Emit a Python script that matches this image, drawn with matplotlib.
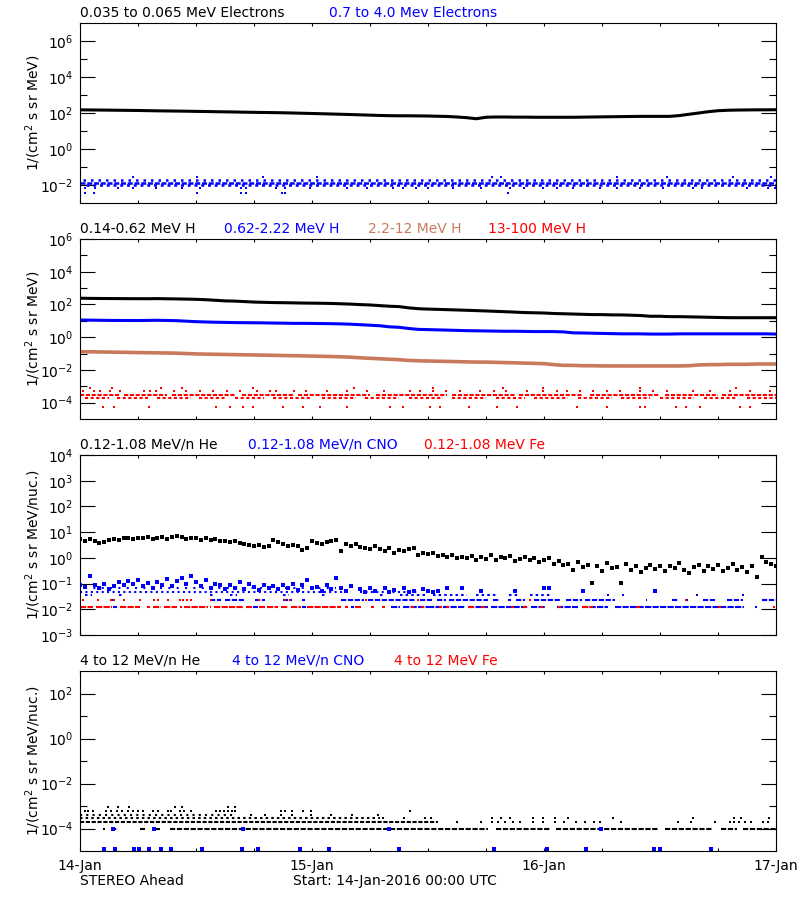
import numpy as np
import matplotlib
matplotlib.use('Agg')
import matplotlib.pyplot as plt
from matplotlib.ticker import FixedLocator, FixedFormatter, NullFormatter, NullLocator

nan = np.nan

# time axis in hours after 14-Jan-2016 00:00 UTC
hours = np.arange(0, 73)            # hourly samples
half_hours = np.arange(0, 145) / 2.0  # 30 min samples

# ---- panel 1 : electrons ----
e_low_flux = [150, 148, 146, 144, 142, 140, 138, 135, 132, 130, 128, 126, 123,
              121, 118, 116, 114, 111, 109, 107, 105,
              103, 100, 97, 94, 91, 88, 85, 82, 79, 76, 73, 71, 70,
              70, 69, 68, 66, 64, 60, 55,
              48,
              58, 60, 60, 59, 59, 58, 58, 58, 58, 58, 59, 60, 61, 62, 63, 64, 65, 65, 65, 65,
              72, 85, 100, 118, 134, 142, 146, 148, 150, 150, 152]
e_high_row_levels = [0.019, 0.0135, 0.010]
e_high_row_spans = [[(0.3, 72)], [(0, 72)], [(0.6, 72)]]
e_high_pt_levels = [0.029, 0.0066, 0.0035]
e_high_pt_hours = [
    [5.5, 12.1, 18.9, 24.5, 42.6, 43.6, 55.5, 60.7, 67.6, 71.5],
    [0.52, 1.55, 3.97, 5.5, 7.9, 10.5, 12.4, 16.7, 17.2, 20.3, 21.2, 23.8, 27.6, 29.7,
     32.4, 33.4, 34.8, 36.0, 38.6, 41.5, 44.5, 45.9, 47.9, 49.3, 51.0, 53.8, 55.5,
     57.9, 60.3, 63.4, 64.3, 69.0, 71.2, 71.9],
    [0.52, 1.4, 12.1, 16.7, 17.2, 20.9, 21.2, 44.3],
]

# ---- panel 2 : protons ----
h1_flux = [240, 235, 232, 230, 228, 226, 225, 224, 228, 222, 218,
           212, 206, 195, 180, 165, 160, 150, 140, 135, 130,
           128, 125, 122, 120, 118, 115, 110, 105, 98, 93, 85, 78, 74,
           62, 55, 52, 50, 48, 46, 44,
           42, 40, 38, 36, 34, 32, 31, 30, 28, 27,
           26, 25, 24, 24, 23, 23, 22, 21, 19, 19,
           18, 18, 17.5, 17, 16.5, 16, 15.6, 15.5, 15.5, 15.5, 15.5, 15.5]
h2_flux = [11.2, 11, 10.8, 10.6, 10.5, 10.5, 10.4, 10.6, 10.8, 10.5, 10.2,
           9.5, 8.9, 8.5, 8.2, 8.0, 7.8, 7.7, 7.6, 7.5, 7.3,
           7.2, 7.0, 7.0, 6.9, 6.8, 6.7, 6.5, 6.2, 5.8, 5.4, 5.0, 4.3, 4.0,
           3.4, 3.0, 2.9, 2.8, 2.7, 2.6, 2.5,
           2.45, 2.4, 2.35, 2.3, 2.3, 2.25, 2.2, 2.2, 2.2, 2.1,
           1.85, 1.8, 1.75, 1.7, 1.65, 1.6, 1.6, 1.6, 1.55, 1.55,
           1.55, 1.6, 1.6, 1.6, 1.6, 1.6, 1.6, 1.6, 1.6, 1.6, 1.6, 1.55]
h3_flux = [0.13, 0.128, 0.125, 0.123, 0.12, 0.118, 0.115, 0.112, 0.11, 0.108, 0.105,
           0.1, 0.095, 0.092, 0.09, 0.088, 0.086, 0.084, 0.082, 0.08, 0.078,
           0.076, 0.074, 0.072, 0.07, 0.068, 0.066, 0.063, 0.06, 0.055, 0.051, 0.048, 0.045, 0.042,
           0.038, 0.036, 0.035, 0.034, 0.033, 0.032, 0.031,
           0.030, 0.030, 0.029, 0.028, 0.027, 0.026, 0.025, 0.024, 0.021, 0.019,
           0.019, 0.018, 0.018, 0.0175, 0.0175, 0.0174, 0.0174, 0.0174, 0.0175, 0.0175,
           0.0175, 0.0175, 0.018, 0.02, 0.021, 0.021, 0.022, 0.022, 0.022, 0.023, 0.023, 0.023]
h4_row_levels = [3.0e-4, 1.8e-4]
h4_row_spans = [
    [(0, 4), (4.5, 9), (9.5, 16), (16.8, 22), (22.5, 30), (30.6, 38), (38.5, 45),
     (45.4, 52), (52.8, 60), (60.5, 66), (66.4, 72)],
    [(0.5, 3), (3.8, 7), (8, 11.5), (12.3, 15), (16, 19), (20, 24), (25, 28.5),
     (29.5, 33), (34, 37.5), (38.5, 42), (43, 46), (47, 50.5), (51.5, 55), (56, 59),
     (60, 63.5), (64.5, 68), (69, 72)],
]
h4_pt_levels = [7.4e-4, 5.1e-4, 5.6e-5]
h4_pt_hours = [
    [1.0, 3.3, 8.4, 10.5, 17.9, 28.3, 36.5, 43.8, 47.9, 57.9, 67.9],
    [0.35, 1.4, 2.1, 3.1, 4.1, 6.6, 7.2, 7.9, 9.7, 11.0, 12.4, 13.8, 15.2, 16.6, 18.3,
     19.7, 20.3, 22.1, 23.4, 25.5, 27.6, 29.7, 31.4, 34.1, 35.2, 36.5, 37.9, 39.3,
     41.4, 42.8, 44.1, 46.2, 47.9, 49.3, 50.4, 51.7, 53.1, 54.5, 55.9, 57.9, 59.3,
     60.7, 63.4, 65.2, 67.2, 69.3, 71.4],
    [2.4, 3.5, 7.1, 14.1, 15.5, 16.9, 17.9, 21.0, 23.1, 24.8, 27.6, 32.1, 33.4, 36.2,
     37.2, 40.2, 43.1, 45.2, 51.4, 54.5, 57.9, 58.4, 61.7, 62.7, 64.1, 68.3, 69.3],
]

# ---- panel 3 : low energy heavy ions ----
he_flux = [5.2, 4.6, 5.6, 4.4, 3.8, 4.1, 4.8, 5.5, 4.9, 5.9, 6.1,
           5.4, 6.0, 5.7, 6.3, 5.2, 5.8, 6.4, 5.5, 6.6, 6.9,
           6.2, 5.4, 6.0, 5.7, 5.0, 5.8, 4.9, 5.3, 4.4, 4.7,
           4.2, 4.5, 3.9, 3.6, 3.3, 2.8, 3.1, 2.6, 2.9, 5.0,
           4.3, 3.6, 3.0, 3.3, 2.8, 2.0, 2.5, 4.4, 3.8, 3.4,
           4.0, 4.6, 5.1, 1.8, 3.6, 3.0, 3.4, 2.6, 2.4, 2.2,
           2.8, 2.3, 1.9, 2.4, 1.6, 2.1, 1.8, 2.2, 2.4, 1.3,
           1.5, 1.4, 1.6, 1.2, 1.3, 1.1, 1.25, 0.95, 1.1, 1.0,
           1.2, 0.85, 1.1, 0.9, 1.3, 0.8, 1.05, 0.95, 1.15, 0.75,
           0.9, 1.1, 0.8, 0.95, 0.7, 0.85, 1.0, 0.6, 0.75, 0.55,
           0.6, 0.35, 0.7, 0.45, 0.55, 0.11, 0.5, 0.3, 0.65, 0.4,
           0.45, 0.11, 0.6, 0.35, 0.5, 0.28, 0.42, 0.55, 0.38, 0.48,
           0.3, 0.5, 0.4, 0.62, 0.35, 0.25, 0.45, 0.55, 0.32, 0.48,
           0.38, 0.52, 0.3, 0.42, 0.6, 0.33, 0.45, 0.28, 0.5, 0.18,
           1.05, 0.7, 0.6, 0.5]
cno_flux = [0.09, 0.075, 0.2, 0.085, 0.07, 0.1, 0.06, 0.08, 0.12, 0.09, 0.13,
            0.1, 0.14, 0.08, 0.11, 0.07, 0.12, 0.09, 0.15, 0.08, 0.13,
            0.17, 0.1, 0.19, 0.12, 0.08, 0.14, 0.07, 0.1, 0.085, 0.06,
            0.09, 0.07, 0.12, 0.06, 0.1, 0.075, 0.055, 0.09, 0.065, 0.08,
            0.06, 0.09, 0.07, 0.1, 0.055, 0.085, 0.14, 0.065, 0.075, 0.05,
            0.09, 0.06, 0.17, 0.07, 0.05, 0.08, nan, 0.06, 0.045, 0.07,
            0.05, nan, 0.065, 0.045, 0.055, nan, 0.07, 0.045, 0.05, nan,
            0.06, 0.05, 0.045, 0.05, nan, 0.07, nan, nan, 0.07, nan,
            nan, nan, 0.05, nan, nan, nan, nan, nan, nan, 0.05,
            nan, nan, nan, nan, nan, 0.07, 0.07, nan, nan, nan,
            nan, nan, nan, 0.05, nan, nan, nan, nan, nan, nan,
            nan, nan, nan, nan, nan, nan, nan, nan, 0.05, nan,
            nan, nan, nan, nan, nan, nan, nan, nan, nan, nan,
            nan, nan, nan, nan, nan, nan, nan, nan, nan, nan,
            nan, nan, nan, nan]
cno_row_levels = [0.07, 0.047, 0.035, 0.0236, 0.0118]
cno_row_spans = [
    [(0.5, 26.5)],
    [(0, 28), (29, 35)],
    [(0.5, 1.2), (4, 4.6), (13.4, 14), (15.5, 16.2), (21, 21.6), (25, 25.6), (31, 31.5),
     (33.1, 36), (36.5, 40), (41, 43), (44.4, 45.4), (46.5, 48.6)],
    [(3.2, 3.6), (13.4, 14.6), (15, 17), (18.1, 19.1), (21, 21.9), (23, 23.3), (27, 29.4),
     (29.8, 34.8), (35.2, 36.5), (36.9, 37.9), (38.2, 42.2), (42.7, 43.4), (44.3, 44.6),
     (45.1, 46.0), (47, 49.8), (50.3, 51.9), (52.2, 55.3), (58.5, 58.7), (61.2, 61.9),
     (62.6, 62.9), (64.4, 65.7), (66.9, 68.6), (70.5, 72)],
    [(3.4, 3.8), (17.9, 18.4), (23.0, 23.4), (28.0, 28.3), (32.2, 33.1), (33.4, 36.0),
     (36, 39.8), (40.1, 42.2), (42.5, 46.3), (46.7, 48.1), (49.3, 51.5), (51.9, 54.6),
     (55.3, 68.7), (69.8, 70.0)],
]
cno_pt_hours = [54.6, 56.2, 63.8, 68.6]   # extra points on the 0.035 level
fe_row_spans = [(0, 1.3), (1.7, 3.3), (4.1, 6.2), (6.9, 7.2), (7.6, 8.4), (8.7, 10),
                (10.3, 10.6), (10.8, 13.2), (13.4, 13.6), (13.9, 17), (17.2, 17.8),
                (18.5, 19.1), (19.3, 20.5), (20.8, 21.5), (21.8, 22.9), (23.5, 27),
                (27.4, 27.7), (28.4, 29.1), (30.1, 30.4), (31.2, 31.5), (34.2, 34.6),
                (35.3, 35.6), (37.1, 37.4), (37.9, 38.2), (40.1, 40.8), (41.5, 41.9),
                (44.6, 44.9), (45.8, 46.2), (47.6, 47.9), (49.4, 49.8), (51.9, 53.1),
                (57.5, 57.9), (66, 66.3), (71.7, 71.9)]
fe_row_level = 0.0118
fe_pt_level = 0.0236
fe_pt_hours = [0.3, 1.9, 3.2, 3.5, 4.6, 6.2, 7.7, 8.1, 9.1, 10.3, 10.7, 11.1, 11.5, 13.6,
               18.5, 21.2, 21.7, 29.6, 35.0, 46.5, 62.7]

# ---- panel 4 : high energy heavy ions ----
he_hi_row_levels = [1e-4, 2e-4, 3e-4, 4e-4]
he_hi_row_spans = [
    [(2.4, 2.6), (3.2, 3.9), (6.2, 6.7), (7.8, 8.3), (9.3, 42.2), (43, 48.6),
     (49.2, 59.8), (60.5, 65.5), (66.3, 68), (68.6, 72)],
    [(0, 37)],
    [(0, 31)],
    [(0, 16)],
]
he_hi_pt_levels = [2e-4, 3e-4, 4e-4, 6e-4, 9e-4]
he_hi_pt_hours = [
    [39.0, 41.5, 42.6, 43.2, 44.0, 44.8, 45.5, 46.9, 47.9, 49.1, 50.1, 51.3, 52.2, 53.2,
     53.8, 56.0, 61.9, 63.2, 65.7, 67.2, 67.7, 68.2, 68.8, 69.4, 70.7, 71.2],
    [31.3, 33.5, 35.7, 36.3, 42.6, 43.6, 44.5, 46.9, 47.9, 49.1, 50.5, 55.1, 63.4, 67.7,
     68.4, 71.3],
    [17.7, 19.1, 20.8, 21.9, 23.9, 26.0, 28.1, 30.8],
    [0.5, 0.8, 1.3, 2.7, 3.2, 3.8, 4.3, 5.0, 5.5, 6.0, 6.5, 7.5, 8.1, 9.1, 9.4, 10.3,
     10.8, 11.5, 14.1, 14.5, 14.9, 15.3, 15.7, 16.0, 20.8, 21.2, 21.9, 23.1, 23.9, 34.1],
    [2.9, 3.9, 5.1, 9.8, 10.6, 15.3, 16.0],
]
cno_hi_pt_levels = [1.25e-5, 1e-4]
cno_hi_pt_hours = [
    [2.48, 3.6, 5.55, 6.1, 7.14, 8.35, 9.4, 12.6, 16.8, 18.45, 22.8, 25.8, 33.0, 42.8,
     48.3, 52.3, 59.4, 60.0, 65.3],
    [3.4, 7.7, 16.9, 32.0, 53.9],
]

day_labels = ['14-Jan', '15-Jan', '16-Jan', '17-Jan']

BLUE = '#0000ff'
RED = '#ff0000'
BROWN = '#c8795c'
W, H = 800.0, 900.0

fig = plt.figure(figsize=(8, 9), dpi=100)
fig.patch.set_facecolor('white')


def add_panel(top):
    return fig.add_axes([80 / W, 1 - (top + 180) / H, 696 / W, 180 / H])


def style(ax, ylim, major, minor):
    ax.set_yscale('log')
    ax.set_ylim(*ylim)
    ax.set_xlim(0, 72)
    ax.yaxis.set_major_locator(FixedLocator(major))
    ax.yaxis.set_major_formatter(FixedFormatter(['$10^{%d}$' % round(np.log10(v)) for v in major]))
    ax.yaxis.set_minor_locator(FixedLocator(minor))
    ax.yaxis.set_minor_formatter(NullFormatter())
    ax.xaxis.set_major_locator(FixedLocator(np.arange(0, 73, 6)))
    ax.xaxis.set_minor_locator(NullLocator())
    ax.tick_params(axis='y', which='major', direction='in', length=10.8, width=0.8,
                   left=True, right=True, labelsize=10, pad=5)
    ax.tick_params(axis='y', which='minor', direction='in', length=5, width=0.8,
                   left=True, right=True)
    ax.tick_params(axis='x', direction='in', length=2.5, width=0.8, top=True,
                   bottom=True, labelbottom=False)
    for s in ax.spines.values():
        s.set_linewidth(0.8)


def rows(ax, level, spans, color, dashes, lw=1.5):
    for s, e in spans:
        ax.plot([s, e], [level, level], color=color, lw=lw, dashes=dashes,
                solid_capstyle='butt', dash_capstyle='butt')


def dots(ax, hrs, level, color, ms=1.8):
    ax.plot(hrs, [level] * len(hrs), 's', color=color, ms=ms, mew=0)


def title_row(top, parts):
    for x, txt, col in parts:
        fig.text(x / W, 1 - (top - 10) / H, txt, color=col, fontsize=10,
                 ha='left', va='center')


def ylabel(top, txt):
    fig.text(33 / W, 1 - (top + 90) / H, txt, rotation=90, fontsize=10,
             ha='center', va='center')


# panel 1
ax1 = add_panel(23)
style(ax1, (1e-3, 1e7), [1e-2, 1, 1e2, 1e4, 1e6], [1e-1, 1e1, 1e3, 1e5])
ax1.plot(hours, e_low_flux, color='k', lw=2.2)
for lev, sp, ds in zip(e_high_row_levels, e_high_row_spans, [(1, 2.0), (2, 0.7), (1.2, 1.5)]):
    rows(ax1, lev, sp, BLUE, ds, lw=1.8)
for lev, hrs in zip(e_high_pt_levels, e_high_pt_hours):
    dots(ax1, hrs, lev, BLUE)
title_row(23, [(80, '0.035 to 0.065 MeV Electrons', 'k'),
               (329, '0.7 to 4.0 Mev Electrons', BLUE)])
ylabel(23, r'1/(cm$^2$ s sr MeV)')

# panel 2
ax2 = add_panel(239)
style(ax2, (1e-5, 1e6), [1e-4, 1e-2, 1, 1e2, 1e4, 1e6], [1e-3, 1e-1, 1e1, 1e3, 1e5])
ax2.plot(hours, h1_flux, color='k', lw=2.2)
ax2.plot(hours, h2_flux, color=BLUE, lw=2.2)
ax2.plot(hours, h3_flux, color=BROWN, lw=2.6)
for lev, sp, ds in zip(h4_row_levels, h4_row_spans, [(2, 0.8), (1.5, 1.2)]):
    rows(ax2, lev, sp, RED, ds)
for lev, hrs in zip(h4_pt_levels, h4_pt_hours):
    dots(ax2, hrs, lev, RED)
title_row(239, [(80, '0.14-0.62 MeV H', 'k'), (224, '0.62-2.22 MeV H', BLUE),
                (368, '2.2-12 MeV H', BROWN), (488, '13-100 MeV H', RED)])
ylabel(239, r'1/(cm$^2$ s sr MeV)')

# panel 3
ax3 = add_panel(455)
style(ax3, (1e-3, 1e4), [1e-3, 1e-2, 1e-1, 1, 1e1, 1e2, 1e3, 1e4], [])
ax3.plot(half_hours, he_flux, 's', color='k', ms=2.6, mew=0)
for lev, sp, ds in zip(cno_row_levels, cno_row_spans,
                       [(1, 3), (1, 1.6), (1.2, 1.5), (2.5, 0.8), (3, 0.6)]):
    rows(ax3, lev, sp, BLUE, ds)
ax3.plot(half_hours, cno_flux, 's', color=BLUE, ms=2.4, mew=0)
dots(ax3, cno_pt_hours, cno_row_levels[2], BLUE)
rows(ax3, fe_row_level, fe_row_spans, RED, (3, 0.6))
dots(ax3, fe_pt_hours, fe_pt_level, RED)
title_row(455, [(80, '0.12-1.08 MeV/n He', 'k'), (248, '0.12-1.08 MeV/n CNO', BLUE),
                (424, '0.12-1.08 MeV Fe', RED)])
ylabel(455, r'1/(cm$^2$ s sr MeV/nuc.)')

# panel 4
ax4 = add_panel(671)
style(ax4, (1e-5, 1e3), [1e-4, 1e-2, 1, 1e2], [1e-3, 1e-1, 1e1])
for lev, sp, ds in zip(he_hi_row_levels, he_hi_row_spans,
                       [(2.5, 0.8), (2, 0.8), (1.2, 1.5), (1, 2)]):
    rows(ax4, lev, sp, 'k', ds)
for lev, hrs in zip(he_hi_pt_levels, he_hi_pt_hours):
    dots(ax4, hrs, lev, 'k')
for lev, hrs in zip(cno_hi_pt_levels, cno_hi_pt_hours):
    dots(ax4, hrs, lev, BLUE, ms=2.2)
tick_text = ['' for _ in range(13)]
for i, lab in enumerate(day_labels):
    tick_text[i * 4] = lab
ax4.xaxis.set_major_formatter(FixedFormatter(tick_text))
ax4.tick_params(axis='x', labelbottom=True, labelsize=10, pad=6)
title_row(671, [(80, '4 to 12 MeV/n He', 'k'), (232, '4 to 12 MeV/n CNO', BLUE),
                (394, '4 to 12 MeV Fe', RED)])
ylabel(671, r'1/(cm$^2$ s sr MeV/nuc.)')

fig.text(80 / W, 1 - 881 / H, 'STEREO Ahead', fontsize=10, ha='left', va='center')
fig.text(293 / W, 1 - 881 / H, 'Start: 14-Jan-2016 00:00 UTC', fontsize=10,
         ha='left', va='center')

fig.savefig('out.png', dpi=100)
